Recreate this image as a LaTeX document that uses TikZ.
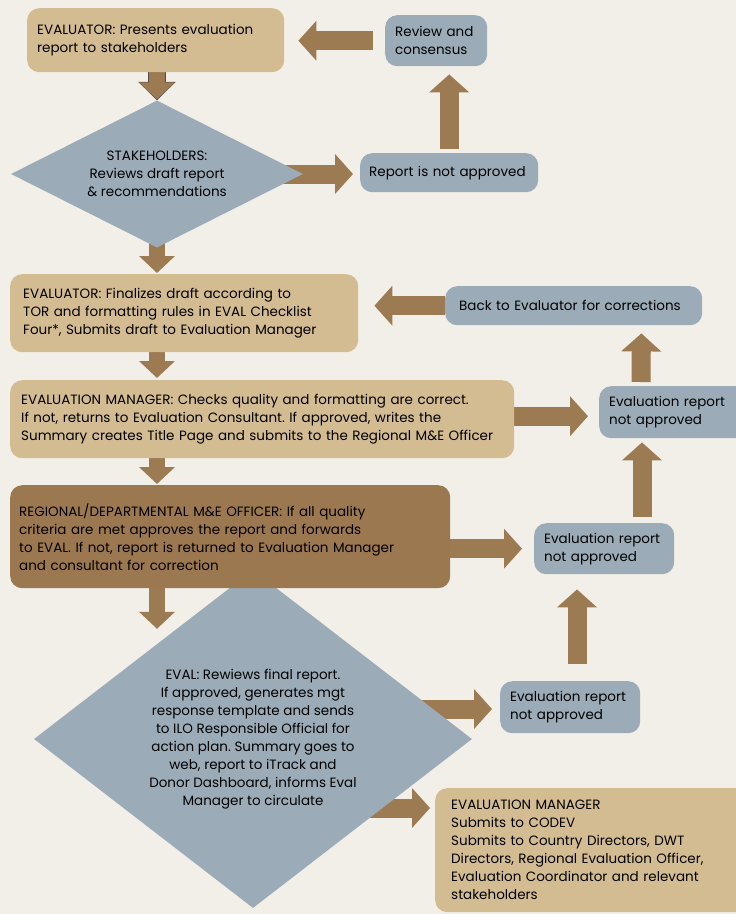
\documentclass[tikz,border=0pt]{standalone}
\usepackage{fontspec}
\setmainfont{Poppins}
\usepackage{xcolor}
\usepackage{tikz}
\usetikzlibrary{arrows.meta, calc, positioning, shapes.geometric}
\frenchspacing

\definecolor{tanbox}{HTML}{D4BC92}
\definecolor{bluebox}{HTML}{9BACB8}
\definecolor{brownarrow}{HTML}{9C7A52}
\definecolor{darkbox}{HTML}{9C7850}
\definecolor{paper}{HTML}{F2EFE8}

\pgfdeclarelayer{bg}
\pgfdeclarelayer{arr}
\pgfsetlayers{bg,arr,main}

\tikzset{
  txt/.style={font=\fontsize{13.5pt}{18pt}\selectfont, text=black},
  box/.style={txt, rounded corners=12pt, anchor=north west, align=left, inner ysep=0pt},
  tanstep/.style={box, fill=tanbox},
  bluestep/.style={box, fill=bluebox},
  darkstep/.style={box, fill=darkbox},
  decision/.style={txt, diamond, fill=bluebox, inner sep=0pt, align=center},
  harrow/.style={line width=19pt, brownarrow, -{Triangle[length=18pt,width=39pt]}},
  darrow/.style={line width=16pt, brownarrow, -{Triangle[length=17pt,width=35pt]}}
}

\begin{document}
\begin{tikzpicture}[x=1pt, y=-1pt]
    \useasboundingbox (0,0) rectangle (736,914);
    \begin{pgfonlayer}{bg}
        \fill[paper] (0,0) rectangle (736,914);
    \end{pgfonlayer}

    % Top loop
    \node[tanstep, minimum width=257pt, minimum height=64pt, inner xsep=10pt, text width=237pt] (ev1) at (27,8)
        {EVALUATOR: Presents evaluation\\report to stakeholders};
    \node[bluestep, minimum width=102pt, minimum height=51pt, inner xsep=10pt, text width=82pt] (rev) at (385,15)
        {Review and\\consensus};
    \node[decision, aspect=2, minimum width=292pt, minimum height=147pt] (d1) at (157,174)
        {STAKEHOLDERS:\\Reviews draft report\\\& recommendations};
    \node[bluestep, minimum width=178pt, minimum height=39pt, inner xsep=9pt, text width=160pt] (rna) at (360,153)
        {Report is not approved};

    % Draft and checks
    \node[tanstep, minimum width=348pt, minimum height=78pt, inner xsep=13pt, text width=322pt] (ev2) at (10,274)
        {EVALUATOR: Finalizes draft according to\\TOR and formatting rules in EVAL Checklist\\Four*, Submits draft to Evaluation Manager};
    \node[bluestep, minimum width=257pt, minimum height=39pt, inner xsep=14pt, text width=229pt] (back) at (445,286)
        {Back to Evaluator for corrections};
    \node[tanstep, minimum width=504pt, minimum height=78pt, inner xsep=11pt, text width=482pt] (em) at (10,380)
        {EVALUATION MANAGER: Checks quality and formatting are correct.\\If not, returns to Evaluation Consultant. If approved, writes the\\Summary creates Title Page and submits to the Regional M\&E Officer};
    \node[bluestep, minimum width=150pt, minimum height=52pt, inner xsep=10pt, text width=130pt] (na1) at (599,386)
        {Evaluation report\\not approved};

    % Final review
    \node[decision, aspect=1.3, minimum width=438pt, minimum height=338pt] (d2) at (253,739)
        {EVAL: Rewiews final report.\\If approved, generates mgt\\response template and sends\\to ILO Responsible Official for\\action plan. Summary goes to\\web, report to iTrack and\\Donor Dashboard, informs Eval\\Manager to circulate};
    \node[darkstep, minimum width=440pt, minimum height=103pt, inner xsep=9pt, text width=422pt] (me) at (10,485)
        {REGIONAL/DEPARTMENTAL M\&E OFFICER: If all quality\\criteria are met approves the report and forwards\\to EVAL. If not, report is returned to Evaluation Manager\\and consultant for correction};
    \node[bluestep, minimum width=140pt, minimum height=51pt, inner xsep=10pt, text width=120pt] (na2) at (534,523)
        {Evaluation report\\not approved};
    \node[bluestep, minimum width=140pt, minimum height=52pt, inner xsep=10pt, text width=120pt] (na3) at (500,681)
        {Evaluation report\\not approved};
    \node[tanstep, minimum width=320pt, minimum height=124pt, inner xsep=16pt, text width=288pt] (fin) at (435,788)
        {EVALUATION MANAGER\\Submits to CODEV\\Submits to Country Directors, DWT\\Directors, Regional Evaluation Officer,\\Evaluation Coordinator and relevant\\stakeholders};

    % Block arrows behind the shapes
    \begin{pgfonlayer}{arr}
        \draw[harrow, shorten <=12pt, shorten >=14pt] (rev.west) -- (rev.west -| ev1.east);
        \draw[harrow, shorten <=4pt, shorten >=8pt] (rna.north) -- (rna.north |- rev.south);
        \draw[harrow, shorten >=7pt] ($(d1.east)+(-20,0)$) -- (d1.east -| rna.west);
        \draw[line width=17.5pt, black!70, -{Triangle[length=18.5pt,width=36.5pt]}] (ev1.south -| d1.north) -- (d1.north);
        \draw[darrow, shorten >=1pt] (ev1.south -| d1.north) -- (d1.north);
        \draw[darrow, shorten >=1pt] ($(d1.south)+(0,-5)$) -- (d1.south |- ev2.north);
        \draw[harrow, shorten >=16pt] (back.west) -- (back.west -| ev2.east);
        \draw[harrow] ($(na1.north west)+(42,-4)$) -- ($(back.south east)+(-61,8)$);
        \draw[darrow] ($(ev2.south west)+(147,0)$) -- ($(em.north west)+(147,-2)$);
        \draw[harrow, shorten >=11pt] ($(em.east)+(0,-3)$) -- ($(em.east -| na1.west)+(0,-3)$);
        \draw[darrow] ($(em.south west)+(147,0)$) -- ($(me.north west)+(147,-1)$);
        \draw[harrow, shorten >=12pt] (me.east |- na2.west) -- (na2.west);
        \draw[harrow] ($(na2.north west)+(108,-6)$) -- ($(na1.south west)+(43,4)$);
        \draw[darrow] ($(me.south west)+(147,-10)$) -- ($(d2.north)+(-96,59)$);
        \draw[harrow, shorten >=8pt] ($(d2.east)+(-52,-30)$) -- ($(d2.east -| na3.west)+(0,-30)$);
        \draw[harrow] ($(na3.north west)+(77,-17)$) -- ($(na2.south west)+(43,15)$);
        \draw[harrow] ($(d2.center)+(102,69)$) -- ($(fin.north west)+(-5,20)$);
    \end{pgfonlayer}
\end{tikzpicture}
\end{document}
